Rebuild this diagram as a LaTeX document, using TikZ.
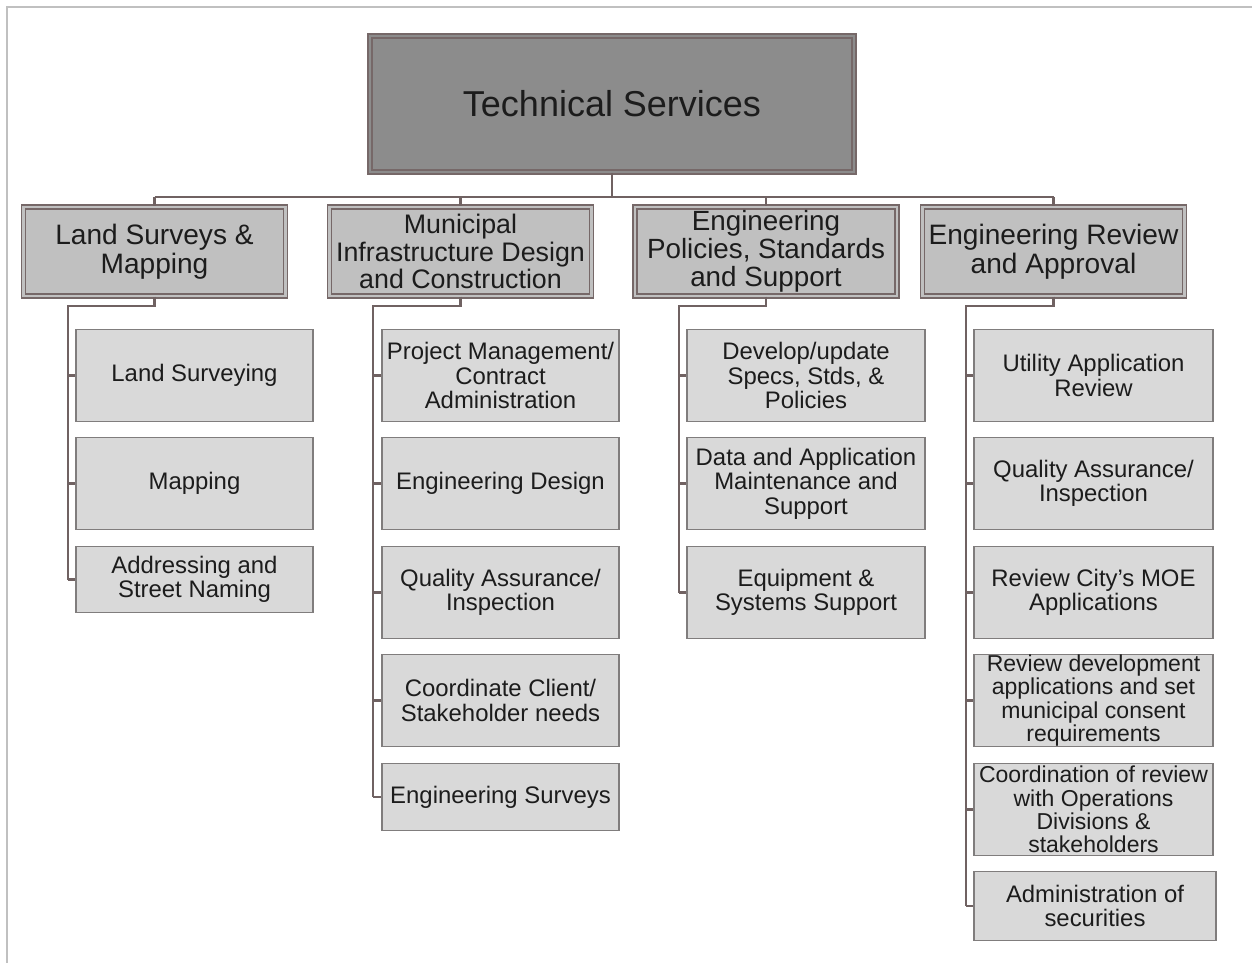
\documentclass[tikz,border=0pt]{standalone}
\usepackage{fontspec}
\setmainfont{Liberation Sans}
\definecolor{bline}{RGB}{118,104,104}
\definecolor{cline}{RGB}{112,98,98}
\definecolor{topfill}{RGB}{140,140,140}
\definecolor{midfill}{RGB}{192,192,192}
\definecolor{lowfill}{RGB}{217,217,217}
\definecolor{lowline}{RGB}{128,125,125}
\definecolor{frameline}{RGB}{192,192,192}
\definecolor{txt}{RGB}{28,28,28}
\tikzset{
 dbox/.style={draw=bline, line width=1.4pt, double distance=2.8pt, inner sep=0pt, align=center, text=txt},
 topbox/.style={dbox, fill=topfill, double=topfill, font=\fontsize{36}{42}\selectfont},
 midbox/.style={dbox, fill=midfill, double=midfill, minimum width=262pt, minimum height=89pt, font=\fontsize{28.1}{28.8}\selectfont},
 lowbox/.style={draw=lowline, line width=1.4pt, fill=lowfill, inner sep=0pt, align=center, text=txt, minimum width=237pt, minimum height=91.6pt, font=\fontsize{23.9}{24.5}\selectfont},
 tight/.style={font=\fontsize{23}{23.3}\selectfont},
 conn/.style={draw=cline, line width=2.2pt},
}
\begin{document}
\begin{tikzpicture}[x=1pt,y=-1pt]
\useasboundingbox (0,0) rectangle (1252,963);
\fill[white] (0,0) rectangle (1252,963);
\draw[frameline, line width=2.5pt] (7,963) -- (7,7) -- (1252,7);

% top
\node[topbox, minimum width=484pt, minimum height=136pt] (top) at (612,104) {Technical Services};

% level 2
\node[midbox] (ls) at (154.5,251.5) {Land Surveys \&\\Mapping};
\node[midbox, font=\fontsize{26.8}{27.8}\selectfont] (mi) at (460.5,251.5) {Municipal\\Infrastructure Design\\and Construction};
\node[midbox, font=\fontsize{27.8}{28.2}\selectfont] (ep) at (766,251.5) {Engineering\\Policies, Standards\\and Support};
\node[midbox] (er) at (1053.5,251.5) {Engineering Review\\and Approval};

% level 3: Land Surveys
\node[lowbox] (ls1) at (194.5,375.5) {Land Surveying};
\node[lowbox] (ls2) at (194.5,483.5) {Mapping};
\node[lowbox, minimum height=66pt] (ls3) at (194.5,579.5) {Addressing and\\Street Naming};

% level 3: Municipal
\node[lowbox] (mi1) at (500.5,375.5) {Project Management/\\Contract\\Administration};
\node[lowbox] (mi2) at (500.5,483.5) {Engineering Design};
\node[lowbox] (mi3) at (500.5,592.5) {Quality Assurance/\\Inspection};
\node[lowbox] (mi4) at (500.5,700.5) {Coordinate Client/\\Stakeholder needs};
\node[lowbox, minimum height=67pt] (mi5) at (500.5,797) {Engineering Surveys};

% level 3: Policies
\node[lowbox, minimum width=238pt] (ep1) at (806,375.5) {Develop/update\\Specs, Stds, \&\\Policies};
\node[lowbox, minimum width=238pt] (ep2) at (806,483.5) {Data and Application\\Maintenance and\\Support};
\node[lowbox, minimum width=238pt] (ep3) at (806,592.5) {Equipment \&\\Systems Support};

% level 3: Review
\node[lowbox, minimum width=239pt] (er1) at (1093.5,375.5) {Utility Application\\Review};
\node[lowbox, minimum width=239pt] (er2) at (1093.5,483.5) {Quality Assurance/\\Inspection};
\node[lowbox, minimum width=239pt] (er3) at (1093.5,592.5) {Review City’s MOE\\Applications};
\node[lowbox, tight, minimum width=239pt] (er4) at (1093.5,700.5) {Review development\\applications and set\\municipal consent\\requirements};
\node[lowbox, tight, minimum width=239pt] (er5) at (1093.5,809.5) {Coordination of review\\with Operations\\Divisions \&\\stakeholders};
\node[lowbox, minimum width=242pt, minimum height=69pt] (er6) at (1095,906) {Administration of\\securities};

% connectors top -> level 2
\coordinate (busy) at (0,197);
\draw[conn] (top.south) -- (top.south |- busy);
\draw[conn] (ls.north |- busy) -- (er.north |- busy);
\foreach \n in {ls,mi,ep,er} \draw[conn] (\n.north |- busy) -- (\n.north);

% elbows level 2 -> level 3
\coordinate (lsv) at (68,306);
\coordinate (miv) at (373,306);
\coordinate (epv) at (679,306);
\coordinate (erv) at (966,306);
\draw[conn] (ls.south) -- (ls.south |- lsv) -- (lsv) -- (lsv |- ls3.west);
\draw[conn] (mi.south) -- (mi.south |- miv) -- (miv) -- (miv |- mi5.west);
\draw[conn] (ep.south) -- (ep.south |- epv) -- (epv) -- (epv |- ep3.west);
\draw[conn] (er.south) -- (er.south |- erv) -- (erv) -- (erv |- er6.west);
\foreach \c in {ls1,ls2,ls3} \draw[conn] (lsv |- \c.west) -- (\c.west);
\foreach \c in {mi1,mi2,mi3,mi4,mi5} \draw[conn] (miv |- \c.west) -- (\c.west);
\foreach \c in {ep1,ep2,ep3} \draw[conn] (epv |- \c.west) -- (\c.west);
\foreach \c in {er1,er2,er3,er4,er5,er6} \draw[conn] (erv |- \c.west) -- (\c.west);
\end{tikzpicture}
\end{document}
